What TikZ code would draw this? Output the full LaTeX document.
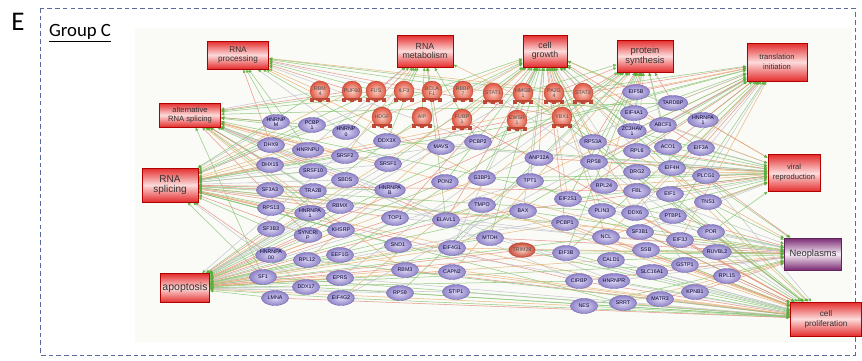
\documentclass[tikz,border=0pt]{standalone}
\usepackage{fontspec}
\setmainfont{Carlito}
\newfontfamily\netfont{Liberation Sans}
\usetikzlibrary{shapes, arrows.meta, calc}

\definecolor{framec}{HTML}{5A6A9C}
\definecolor{panelc}{HTML}{FAFAF6}
\definecolor{boxred}{HTML}{E42C2C}
\definecolor{boxpink}{HTML}{FCDADA}
\definecolor{neopurple}{HTML}{7A2A72}
\definecolor{neolight}{HTML}{F6ECF4}
\definecolor{genein}{HTML}{DED8F4}
\definecolor{geneout}{HTML}{8E82C8}
\definecolor{geneline}{HTML}{7466AE}
\definecolor{regin}{HTML}{FAD2C6}
\definecolor{regout}{HTML}{E0543F}
\definecolor{linkgreen}{HTML}{84C470}
\definecolor{linkred}{HTML}{E4887A}
\definecolor{linkgray}{HTML}{BCC0C6}
\definecolor{linkorange}{HTML}{E6B070}
\definecolor{tipgreen}{HTML}{5AAE3C}

\pgfdeclarelayer{back}
\pgfdeclarelayer{links}
\pgfsetlayers{back,links,main}

\begin{document}
\begin{tikzpicture}[x=0.03cm, y=-0.03cm,
	category/.style={rectangle, draw=red!70!black, line width=0.4pt, top color=boxred, bottom color=boxred, middle color=boxpink, text=black!80, align=center, inner sep=1pt, font=\netfont\fontsize{7}{7.6}\selectfont},
	disease/.style={category, draw=neopurple!80!black, top color=neopurple, bottom color=neopurple, middle color=neolight},
	gene/.style={ellipse, draw=geneline, line width=0.3pt, inner color=genein, outer color=geneout, minimum width=0.82cm, minimum height=0.45cm, inner sep=0pt, align=center, text=black!70!blue!60!black, font=\netfont\fontsize{4.5}{4.8}\selectfont},
	regulator/.style={circle, draw=regout!80!black, line width=0.3pt, inner color=regin, outer color=regout, minimum size=0.6cm, inner sep=0pt, align=center, text=black!70, font=\netfont\fontsize{4.5}{4.8}\selectfont},
	inhib/.style={ellipse, draw=regout!80!black, line width=0.3pt, inner color=regin, outer color=regout!90!black, minimum width=0.76cm, minimum height=0.44cm, inner sep=0pt, text=black!70, font=\netfont\fontsize{4.5}{4.8}\selectfont},
	tip/.style={-{Latex[length=3pt,width=2.6pt,color=tipgreen]}, line width=0.45pt, opacity=0.85},
	link0/.style={tip, draw=linkgreen},
	link1/.style={tip, draw=linkred},
	link2/.style={tip, draw=linkgreen},
	link3/.style={tip, draw=linkgray},
	link4/.style={tip, draw=linkorange}]

\useasboundingbox (0,0) rectangle (862,360);

%Panel frame and title
\begin{pgfonlayer}{back}
\fill[panelc] (135,28) rectangle (852,342);
\end{pgfonlayer}
\draw[framec, line width=0.8pt, dash pattern=on 4pt off 2.6pt] (40,8) rectangle (855,355);
\node[font=\fontsize{23}{23}\selectfont] (panel) at (18,22) {E};
\node[anchor=west, font=\fontsize{16}{16}\selectfont] (group) at (45,33) {\underline{Group C}};

%Functions
\node[category, minimum width=1.83cm, minimum height=0.84cm] (proc) at (238,55) {RNA\\processing};
\node[category, minimum width=1.68cm, minimum height=0.96cm, font=\netfont\fontsize{7.5}{8}\selectfont] (meta) at (425,51) {RNA\\metabolism};
\node[category, minimum width=1.32cm, minimum height=0.96cm, font=\netfont\fontsize{7.5}{8}\selectfont] (growth) at (545,51) {cell\\growth};
\node[category, minimum width=1.68cm, minimum height=0.96cm, font=\netfont\fontsize{8}{8.6}\selectfont] (synth) at (645,56) {protein\\synthesis};
\node[category, minimum width=1.8cm, minimum height=1.14cm, font=\netfont\fontsize{6.5}{8.5}\selectfont] (trans) at (777,62) {translation\\initiation};
\node[category, minimum width=1.83cm, minimum height=0.72cm, font=\netfont\fontsize{6.5}{7}\selectfont] (alt) at (190,115) {alternative\\RNA splicing};
\node[category, minimum width=1.68cm, minimum height=1.02cm, font=\netfont\fontsize{8.5}{9}\selectfont] (splice) at (170,185) {RNA\\splicing};
\node[category, minimum width=1.47cm, minimum height=0.87cm, font=\netfont\fontsize{9}{9}\selectfont] (apop) at (185,288) {apoptosis};
\node[category, minimum width=1.56cm, minimum height=1.11cm, font=\netfont\fontsize{6.5}{8.5}\selectfont] (viral) at (794,173) {viral\\reproduction};
\node[disease, minimum width=1.71cm, minimum height=0.96cm, font=\netfont\fontsize{8}{8}\selectfont] (neo) at (813,254) {Neoplasms};
\node[category, minimum width=2.13cm, minimum height=1.02cm, font=\netfont\fontsize{7}{8.5}\selectfont] (prolif) at (826,319) {cell\\proliferation};

%Regulators
\foreach \name/\x/\y/\txt in {RBM4/320/91/{RBM\\4}, PUF60/352/91/PUF60, FUS/376/91/FUS, ILF3/404/91/ILF3,
	BCLAF1/432/91/{BCLA\\F1}, RBBP7/463/91/{RBBP\\7}, STAT1/493/93/STAT1, HMGB1/523/93/{HMGB\\1},
	PA2G4/554/93/{PA2G\\4}, STAT3/583/93/STAT3, HDGF/382/117/HDGF, AIP/422/117/AIP,
	FUBP1/462/119/{FUBP\\1}, EWSR1/517/120/{EWSR\\1}, YBX1/562/117/YBX1}
	{
	\node[regulator] (\name) at (\x,\y) {\txt};
	\fill[regout!85!black] ($(\name)+(-10,7)$) rectangle ($(\name)+(10,9)$);
	\foreach \f in {-10,-2,6} \fill[regout!85!black] ($(\name)+(\f,9)$) rectangle ($(\name)+(\f+4,11)$);
	}
\node[inhib] (TRIM28) at (522,250) {TRIM28};

%Genes
\foreach \name/\x/\y/\txt in {HNRNPM/276/122/{HNRNP\\M}, DHX9/271/145/DHX9, DHX15/270/165/DHX15,
	SF3A3/270/190/SF3A3, RPS13/271/208/RPS13, SF3B3/271/229/SF3B3, HNRNPAO/271/255/{HNRNPA\\00},
	SF1/263/277/SF1, LMNA/275/298/LMNA,
	PCBPx/312/125/{PCBP\\1}, HNRNPU/308/150/HNRNPU, SRSF10/313/171/SRSF10, TRA2B/313/191/TRA2B,
	HNRNPA1/310/213/{HNRNPA\\1}, SYNCRIP/308/235/{SYNCRI\\P}, RPL12/307/260/RPL12, DDX17/306/287/DDX17,
	HNRNPD/346/132/{HNRNP\\0}, SRSF2/345/156/SRSF2, SBDS/345/180/SBDS, RBMX/340/206/RBMX,
	KHSRP/341/230/KHSRP, EEF1G/340/255/EEF1G, EPRS/340/278/EPRS, EIF4G2/341/298/EIF4G2,
	DDX3X/387/141/DDX3X, SRSF1/388/164/SRSF1, HNRNPAB/390/190/{HNRNPA\\B}, TOP1/395/218/TOP1,
	SND1/398/245/SND1, RBM3/405/270/RBM3, RPS9/400/293/RPS9,
	MAVS/441/147/MAVS, PCBP2/478/142/PCBP2, PON2/445/182/PON2, G3BP1/482/178/G3BP1,
	TMPO/482/205/TMPO, ELAVL1/446/220/ELAVL1, EIF4G1/452/248/EIF4G1, CAPN2/452/272/CAPN2,
	STIP1/456/292/STIP1, MTDH/490/238/MTDH,
	ANP32A/539/158/ANP32A, TPT1/530/181/TPT1, BAX/523/211/BAX, EIF2S1/568/199/EIF2S1,
	PCBP1/565/223/PCBP1, EIF3B/566/253/EIF3B, CIRBP/579/281/CIRBP, NES/584/306/NES,
	RPS3A/593/142/RPS3A, RPS8/594/162/RPS8, RPL24/604/186/RPL24, PLIN3/602/211/PLIN3,
	NCL/606/237/NCL, CALD1/611/260/CALD1, HNRNPR/614/281/HNRNPR, SRRT/623/303/SRRT,
	EIF5B/636/92/EIF5B, EIF4A1/634/113/EIF4A1, ZC3HAV1/632/131/{ZC3HAV\\1}, RPL6/637/151/RPL6,
	DRG2/637/172/DRG2, FBL/637/191/FBL, DDX6/635/213/DDX6, SF3B1/640/232/SF3B1,
	SSB/646/250/SSB, SLC16A1/652/272/SLC16A1, MATR3/660/299/MATR3,
	TARDBP/673/103/TARDBP, ABCF1/663/125/ABCF1, ACO1/668/147/ACO1, EIF4H/672/168/EIF4H,
	EIF1/670/194/EIF1, PTBP1/673/216/PTBP1, EIF3J/680/240/EIF3J, GSTP1/685/265/GSTP1,
	KPNB1/695/292/KPNB1,
	HNRNPAx/703/120/{HNRNPA\\1}, EIF3A/701/148/EIF3A, PLCG1/706/176/PLCG1, TNS1/708/202/TNS1,
	POR/711/232/POR, RUVBL2/717/252/RUVBL2, RPL15/727/276/RPL15}
	\node[gene] (\name) at (\x,\y) {\txt};

%Relations
\begin{pgfonlayer}{links}
\foreach \cat/\genes in {
	proc/{PUF60,FUS,ILF3,RBM4,HNRNPM,DHX9,DDX3X,SRSF1,STAT3,PA2G4,YBX1,EIF4A1,PCBP2,G3BP1,HNRNPU},
	meta/{FUS,ILF3,HDGF,SRSF2,DDX3X,MAVS,PCBP2,HNRNPU,YBX1,ELAVL1,HNRNPD,AIP},
	growth/{STAT1,HMGB1,PA2G4,STAT3,EWSR1,YBX1,FUBP1,AIP,HDGF,RBBP7,ANP32A,TPT1,BAX,EIF2S1,RPS3A,RPS8,RPL24,PLIN3,NCL,MTDH,ELAVL1,G3BP1,EIF4G1,DDX3X,SRSF1,TOP1,DHX9,RPL6,DDX6,HNRNPAx,EIF3A,TNS1,GSTP1,RPL12,PON2,PCBP1,EIF4A1,ZC3HAV1,EIF5B},
	synth/{EIF5B,EIF4A1,ZC3HAV1,RPL6,RPS8,RPS3A,EIF2S1,EIF4G1,EIF4G2,YBX1,STAT3,EEF1G,EPRS,RPL24,EIF3B,TARDBP,ABCF1,EIF4H,CAPN2,RPS9,PA2G4,HMGB1},
	trans/{EIF5B,EIF4A1,ABCF1,TARDBP,HNRNPAx,EIF3A,EIF4H,EIF1,EIF3J,EIF3B,EIF2S1,EIF4G1,EIF4G2,DDX3X,YBX1,RPS8,PTBP1,DDX6,ELAVL1,RPL6,ACO1,PCBP2,G3BP1,NCL,ZC3HAV1,STAT3,PA2G4,PLCG1},
	alt/{HNRNPM,PCBPx,DHX9,HNRNPU,HNRNPD,SRSF2,SRSF10,TRA2B,SRSF1,RBMX,PUF60,FUS,RBM4,HNRNPA1,KHSRP,ELAVL1,PTBP1,CIRBP,SF3B1,HNRNPAB,SYNCRIP,TARDBP,HNRNPR,RBM3,SF1,DHX15,BCLAF1},
	splice/{DHX9,DHX15,SF3A3,RPS13,SF3B3,HNRNPAO,SF1,HNRNPM,HNRNPU,SRSF10,TRA2B,SRSF2,SBDS,RBMX,KHSRP,SYNCRIP,HNRNPA1,SRSF1,DDX3X,HNRNPAB,TOP1,SND1,PCBP2,PUF60,FUS,EWSR1,YBX1,DDX17,SF3B1,SRRT,FBL,DDX6,NCL,HNRNPR,PCBP1,CIRBP,RBM4,ILF3,HNRNPD,PCBPx},
	apop/{SF1,LMNA,DDX17,RPL12,EEF1G,EPRS,EIF4G2,RPS9,RBM3,SND1,TOP1,CAPN2,STIP1,EIF4G1,MTDH,TRIM28,BAX,TPT1,NES,CIRBP,EIF3B,NCL,HMGB1,STAT1,STAT3,YBX1,AIP,HDGF,G3BP1,TMPO,ELAVL1,PON2,MAVS,KHSRP,HNRNPA1,SYNCRIP,RBMX,SRSF1,PCBP1,HNRNPAO,SF3B3,GSTP1,PLIN3,CALD1},
	viral/{PLCG1,TNS1,EIF3A,EIF4H,ACO1,HNRNPAx,EIF1,PTBP1,DRG2,RPL6,FBL,DDX6,SF3B1,RPL24,RPS8,RPS3A,EIF2S1,PLIN3,NCL,TPT1,ANP32A,ZC3HAV1,ABCF1,EIF4A1,DDX3X,ELAVL1,G3BP1,MAVS,TARDBP,POR},
	neo/{RUVBL2,RPL15,POR,GSTP1,EIF3J,KPNB1,SSB,SLC16A1,MATR3,SF3B1,NCL,CALD1,HNRNPR,SRRT,NES,CIRBP,EIF3B,PLIN3,PCBP1,BAX,MTDH,TRIM28,TOP1,EIF4G1,TNS1,PTBP1,DDX6,FBL,HMGB1,STAT3,PLCG1},
	prolif/{RPL15,KPNB1,MATR3,SRRT,NES,CIRBP,HNRNPR,SLC16A1,GSTP1,RUVBL2,EIF3J,SSB,CALD1,NCL,EIF3B,PCBP1,TRIM28,STIP1,CAPN2,RPS9,RBM3,EIF4G2,EPRS,EEF1G,RPL12,LMNA,DDX17,SND1,BAX,TPT1,POR,TNS1,PLCG1,DDX6,EIF1,SF3B1,HMGB1,STAT1,STAT3,YBX1,FUBP1,SF1,MTDH,TMPO}}
	{
	\foreach \g [count=\i] in \genes {
		\pgfmathtruncatemacro{\c}{mod(\i,5)}
		\draw[link\c] (\g) -- (\cat);
		}
	}
\end{pgfonlayer}

\end{tikzpicture}
\end{document}
